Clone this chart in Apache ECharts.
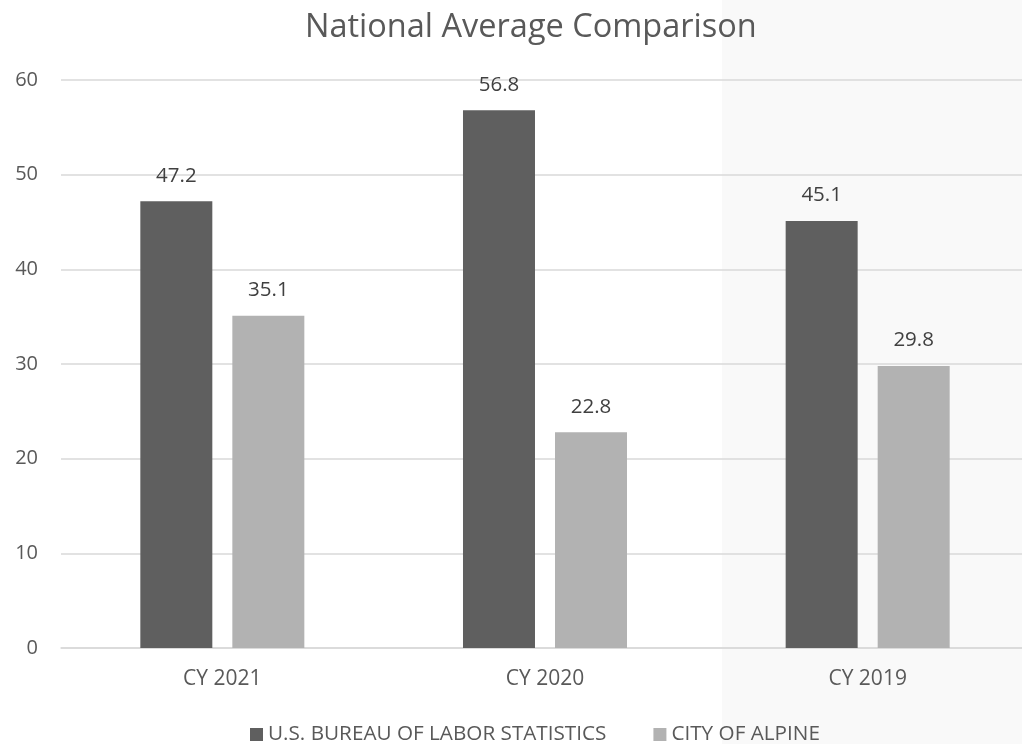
<!DOCTYPE html>
<html>
<head>
<meta charset="utf-8">
<script src="https://cdn.jsdelivr.net/npm/echarts@6/dist/echarts.min.js"></script>
<style>html,body{margin:0;padding:0;background:#fff;}#c{width:1022px;height:744px;}</style>
</head>
<body>
<div id="c"></div>
<script>
const categories = ['CY 2021', 'CY 2020', 'CY 2019'];
const blsValues = [47.2, 56.8, 45.1];
const alpineValues = [35.1, 22.8, 29.8];
const seriesNames = ['U.S. BUREAU OF LABOR STATISTICS', 'CITY OF ALPINE'];
const yTicks = { min: 0, max: 60, interval: 10 };

const font = '"Open Sans", "Noto Sans", sans-serif';
const chart = echarts.init(document.getElementById('c'), null, { renderer: 'canvas' });
chart.setOption({
  animation: false,
  backgroundColor: '#ffffff',
  textStyle: { fontFamily: font },
  graphic: [{
    type: 'rect', z: -10, silent: true,
    shape: { x: 722, y: 0, width: 300, height: 744 },
    style: { fill: '#f9f9f9' }
  }],
  title: {
    text: 'National Average Comparison',
    left: 300, top: 6,
    textStyle: { fontFamily: font, fontSize: 32.5, fontWeight: 'normal', color: '#595959' }
  },
  legend: {
    top: 719, left: 245,
    itemWidth: 13, itemHeight: 13, itemGap: 47,
    icon: 'rect',
    textStyle: { fontFamily: font, fontSize: 20.7, color: '#595959' },
    data: seriesNames
  },
  grid: { left: 61, top: 80, width: 968, height: 568, containLabel: false, outerBoundsMode: 'none' },
  xAxis: {
    type: 'category', data: categories,
    axisLine: { lineStyle: { color: '#d9d9d9', width: 1.5 } },
    axisTick: { show: false },
    axisLabel: { color: '#595959', fontSize: 21, margin: 21, fontFamily: font }
  },
  yAxis: {
    type: 'value', min: yTicks.min, max: yTicks.max, interval: yTicks.interval,
    axisLine: { show: false }, axisTick: { show: false },
    splitLine: { lineStyle: { color: '#d9d9d9', width: 1.5 } },
    axisLabel: { color: '#595959', fontSize: 20, margin: 23, fontFamily: font }
  },
  series: [
    {
      name: seriesNames[0], type: 'bar', data: blsValues,
      barWidth: 72, barGap: '27.8%',
      itemStyle: { color: '#5f5f5f' },
      label: { show: true, position: 'top', distance: 15, color: '#404040', fontSize: 20.5, fontFamily: font }
    },
    {
      name: seriesNames[1], type: 'bar', data: alpineValues,
      barWidth: 72, barGap: '27.8%',
      itemStyle: { color: '#b2b2b2' },
      label: { show: true, position: 'top', distance: 15, color: '#404040', fontSize: 20.5, fontFamily: font }
    }
  ]
});
</script>
</body>
</html>
